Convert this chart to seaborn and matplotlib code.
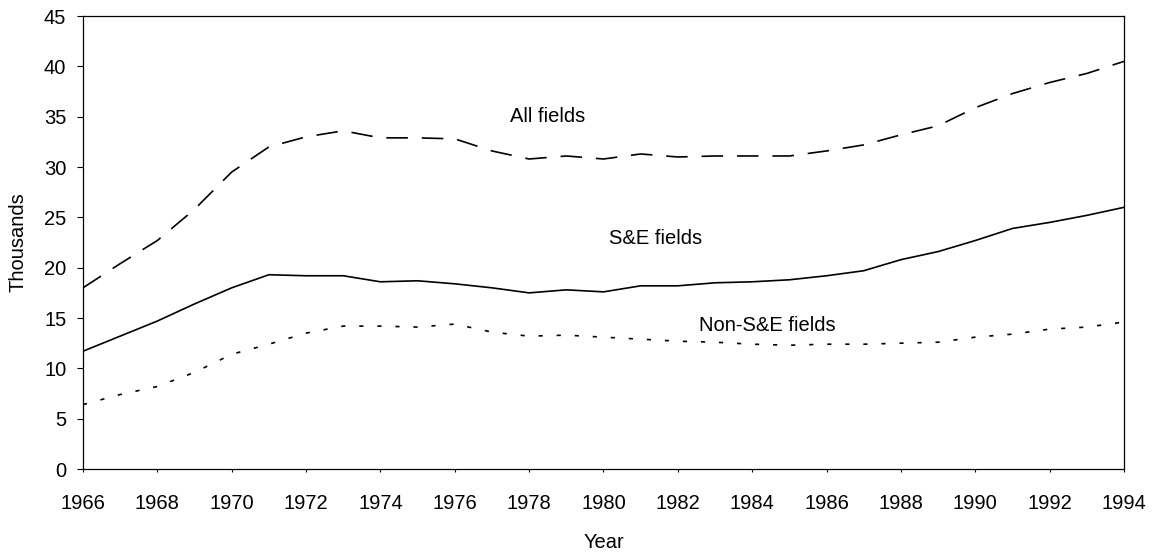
import numpy as np
import pandas as pd
import seaborn as sns
from matplotlib import pyplot as plt

years = list(range(1966, 1995))
all_fields = [18.0, 20.4, 22.7, 25.8, 29.5, 32.0, 33.0, 33.6, 32.9, 32.9,
              32.8, 31.6, 30.8, 31.1, 30.8, 31.3, 31.0, 31.1, 31.1, 31.1,
              31.6, 32.2, 33.2, 34.1, 35.9, 37.3, 38.4, 39.3, 40.5]
se_fields = [11.7, 13.2, 14.7, 16.4, 18.0, 19.3, 19.2, 19.2, 18.6, 18.7,
             18.4, 18.0, 17.5, 17.8, 17.6, 18.2, 18.2, 18.5, 18.6, 18.8,
             19.2, 19.7, 20.8, 21.6, 22.7, 23.9, 24.5, 25.2, 26.0]
non_se_fields = [6.4, 7.4, 8.2, 9.6, 11.4, 12.4, 13.5, 14.2, 14.2, 14.1,
                 14.4, 13.6, 13.2, 13.3, 13.1, 12.9, 12.7, 12.6, 12.4, 12.3,
                 12.4, 12.4, 12.5, 12.6, 13.1, 13.4, 13.9, 14.1, 14.6]

series_labels = ["All fields", "S&E fields", "Non-S&E fields"]
label_pos = [(1978.5, 35.0), (1981.4, 22.9), (1984.4, 14.3)]

df = pd.DataFrame({"Year": years, "All fields": all_fields,
                   "S&E fields": se_fields, "Non-S&E fields": non_se_fields})

sns.set_theme(style="white")
plt.rcParams["font.family"] = ["Liberation Sans", "DejaVu Sans"]
plt.rcParams["lines.scale_dashes"] = False

fig = plt.figure(figsize=(11.57, 5.54), dpi=100)
ax = fig.add_subplot(111)
fig.subplots_adjust(left=0.0717, right=0.9715, bottom=0.1534, top=0.971)

styles = {
    "All fields": (0, (15.5, 10)),
    "S&E fields": "-",
    "Non-S&E fields": (0, (3, 10)),
}
for name in series_labels:
    sns.lineplot(data=df, x="Year", y=name, ax=ax, color="black",
                 linewidth=1.2, linestyle=styles[name])

FS = 14.5
for name, (x, y) in zip(series_labels, label_pos):
    ax.text(x, y, name, ha="center", va="center", fontsize=FS, color="black")

ax.set_xlim(1966, 1994)
ax.set_ylim(0, 45)
ax.set_xticks(range(1966, 1995, 2))
ax.set_yticks(range(0, 46, 5))
ax.tick_params(axis="x", direction="out", length=2, width=0.8, pad=16,
               labelsize=FS, colors="black", bottom=True)
ax.tick_params(axis="y", direction="out", length=4, width=0.8, pad=8,
               labelsize=FS, colors="black", left=True)
for s in ax.spines.values():
    s.set_color("black")
    s.set_linewidth(0.9)

ax.set_xlabel("Year", fontsize=FS, color="black")
ax.set_ylabel("Thousands", fontsize=FS, color="black")
ax.xaxis.set_label_coords(0.5, -0.142)
ax.yaxis.set_label_coords(-0.053, 0.5)

fig.savefig("out.png", dpi=100)
